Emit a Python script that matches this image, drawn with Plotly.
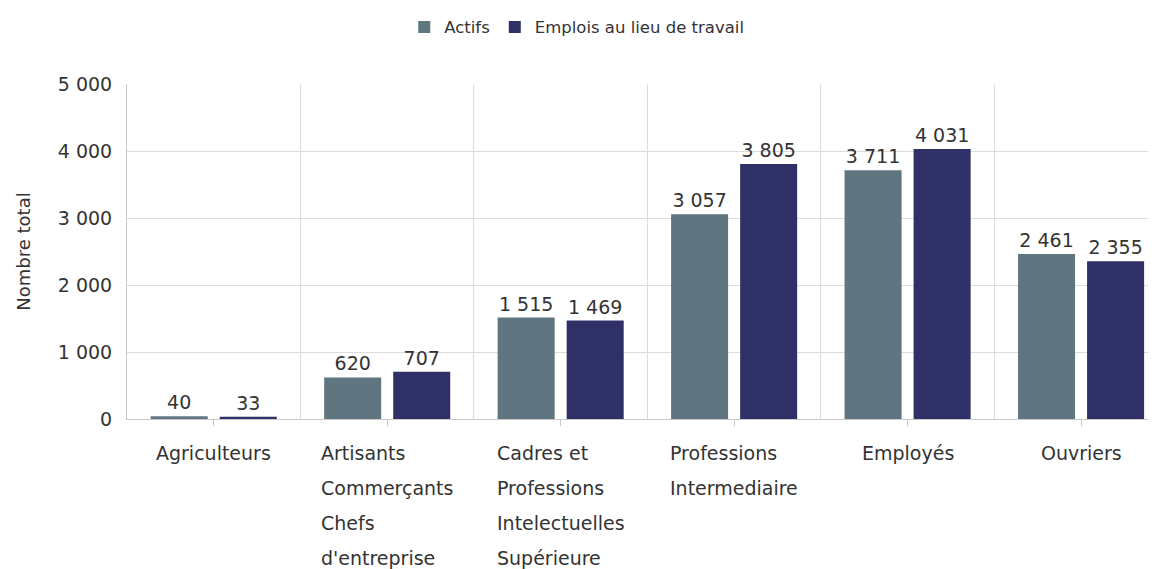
import plotly.graph_objects as go

# data
categories = [
    ["Agriculteurs"],
    ["Artisants", "Commerçants", "Chefs", "d'entreprise"],
    ["Cadres et", "Professions", "Intelectuelles", "Supérieure"],
    ["Professions", "Intermediaire"],
    ["Employés"],
    ["Ouvriers"],
]
actifs = [40, 620, 1515, 3057, 3711, 2461]
emplois = [33, 707, 1469, 3805, 4031, 2355]
series_names = ["Actifs", "Emplois au lieu de travail"]
y_ticks = [0, 1000, 2000, 3000, 4000, 5000]

FONT = "DejaVu Sans"
TXT = "#333333"
FS = 19
pos = list(range(len(categories)))

fig = go.Figure()
for name, vals, col in [(series_names[0], actifs, "#5f7580"),
                        (series_names[1], emplois, "#2f3066")]:
    fig.add_trace(go.Bar(
        x=pos, y=vals, name=name,
        marker=dict(color=col, line=dict(width=0)),
        texttemplate="%{y:,}", textposition="outside",
        textfont=dict(family=FONT, size=FS, color=TXT),
        cliponaxis=False,
    ))

# category labels: left-aligned block centred under each group.
# big base font gives the wide line spacing, spans shrink the glyphs
span = '<span style="font-size:%dpx">{}</span>' % FS
for i, lines in enumerate(categories):
    fig.add_annotation(
        x=i, y=0, xref="x", yref="paper",
        text="<br>".join(span.format(l) for l in lines),
        showarrow=False, align="left", xanchor="center",
        yanchor="top", yshift=-21,
        font=dict(family=FONT, size=27, color=TXT),
    )

# page body has an 8px margin, so the figure is laid out 8px up/left
fig.update_layout(
    width=1156, height=569,
    margin=dict(l=119, r=8, t=76, b=158, autoexpand=False),
    plot_bgcolor="white", paper_bgcolor="white",
    separators=", ",
    barmode="group", bargap=0.204, bargroupgap=0.174,
    font=dict(family=FONT, size=FS, color=TXT),
    legend=dict(orientation="h", xref="container", x=0.492, xanchor="center",
                yref="container", y=0.997, yanchor="top",
                font=dict(family=FONT, size=16.5, color=TXT),
                traceorder="normal"),
    xaxis=dict(
        range=[-0.5, 5.432], tickvals=pos, ticktext=[""] * len(pos),
        showgrid=False, showline=True, linecolor="#c8c8c8",
        ticks="outside", ticklen=6, tickcolor="#c8c8c8", zeroline=False,
        automargin=False,
        minor=dict(tick0=0.5, dtick=1, showgrid=True, gridcolor="#dcdcdc", ticks=""),
    ),
    yaxis=dict(
        range=[0, 5000], tickvals=y_ticks, tickformat=",",
        showgrid=True, gridcolor="#dcdcdc", showline=True, linecolor="#c8c8c8",
        zeroline=False, ticks="", ticklabelstandoff=10, automargin=False,
        tickfont=dict(family=FONT, size=FS, color=TXT),
        title=dict(text="Nombre total", standoff=22,
                   font=dict(family=FONT, size=18, color=TXT)),
    ),
)

fig.write_html("out.html")
